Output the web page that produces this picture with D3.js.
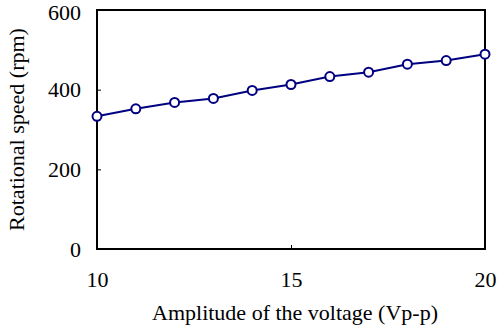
<!DOCTYPE html>
<html>
<head>
<meta charset="utf-8">
<script src="https://cdn.jsdelivr.net/npm/d3@7"></script>
<style>
  body { margin: 0; background: #fff; }
</style>
</head>
<body>
<svg id="chart" width="499" height="334"></svg>
<script>
// amplitude (Vp-p) vs rotational speed (rpm)
const voltage = [10, 11, 12, 13, 14, 15, 16, 17, 18, 19, 20];
const speed = [333, 352, 368, 378, 398, 413, 433, 444, 464, 473, 489];
const xTicks = [10, 15, 20];
const yTicks = [0, 200, 400, 600];

const width = 499,
  height = 334,
  margin = { left: 97, top: 10, right: 14, bottom: 85 },
  iwidth = width - margin.left - margin.right,
  iheight = height - margin.top - margin.bottom;

const serif = '"Liberation Serif", "Times New Roman", serif';

const svg = d3.select("#chart");

const x = d3.scaleLinear().domain([10, 20]).range([0, iwidth]),
  y = d3.scaleLinear().domain([0, 600]).range([iheight, 0]);

const g = svg
  .append("g")
  .attr("transform", `translate(${margin.left}, ${margin.top})`);

// frame
g.append("rect")
  .attr("width", iwidth)
  .attr("height", iheight)
  .attr("fill", "none")
  .attr("stroke", "#000")
  .attr("stroke-width", 2);

// axes, ticks point inward
const xAxis = g
  .append("g")
  .attr("transform", `translate(0, ${iheight})`)
  .call(d3.axisBottom(x).tickValues(xTicks).tickSizeInner(-4).tickSizeOuter(0).tickPadding(22));

const yAxis = g
  .append("g")
  .call(d3.axisLeft(y).tickValues(yTicks).tickSizeInner(-4).tickSizeOuter(0).tickPadding(16));

[xAxis, yAxis].forEach((a) => {
  a.select(".domain").remove();
  a.selectAll("line").attr("stroke", "#000").attr("stroke-width", 1);
  a.selectAll("text")
    .attr("fill", "#000")
    .style("font-family", serif)
    .style("font-size", "22px");
});

// keep top label inside the picture
yAxis.selectAll("text").filter((d) => d === 600).attr("dy", "0.42em");

// series
const pts = voltage.map((v, i) => ({ v, s: speed[i] }));

g.append("path")
  .datum(pts)
  .attr("fill", "none")
  .attr("stroke", "#000080")
  .attr("stroke-width", 2)
  .attr("d", d3.line().x((d) => x(d.v)).y((d) => y(d.s)));

g.selectAll("circle")
  .data(pts)
  .join("circle")
  .attr("cx", (d) => x(d.v))
  .attr("cy", (d) => y(d.s))
  .attr("r", 4.5)
  .attr("fill", "#fff")
  .attr("stroke", "#000080")
  .attr("stroke-width", 2);

// axis titles
svg.append("text")
  .attr("x", 295)
  .attr("y", 320)
  .attr("text-anchor", "middle")
  .style("font-family", serif)
  .style("font-size", "22px")
  .text("Amplitude of the voltage (Vp-p)");

svg.append("text")
  .attr("transform", `translate(24, ${margin.top + iheight / 2}) rotate(-90)`)
  .attr("text-anchor", "middle")
  .style("font-family", serif)
  .style("font-size", "22px")
  .text("Rotational speed (rpm)");
</script>
</body>
</html>
